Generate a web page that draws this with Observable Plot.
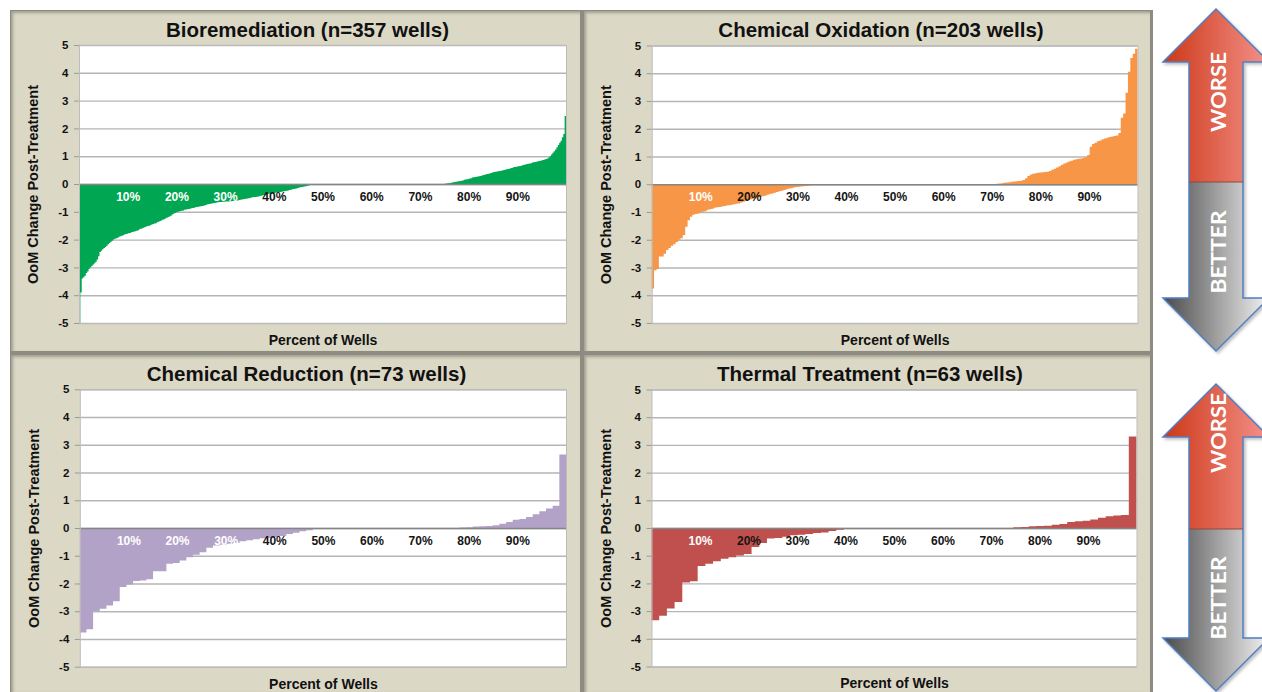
<!DOCTYPE html>
<html>
<head>
<meta charset="utf-8">
<script src="https://cdn.jsdelivr.net/npm/d3@7"></script>
<script src="https://cdn.jsdelivr.net/npm/@observablehq/plot@0.6"></script>
<style>
html, body { margin: 0; padding: 0; background: #fff; }
#page { position: relative; width: 1262px; height: 692px; overflow: hidden; background: #fff; font-family: "Liberation Sans", Arial, sans-serif; }
#board { position: absolute; left: 10px; top: 10px; width: 1143px; height: 682px; background: #8d8b82; }
.panel { position: absolute; background: #dcd8c6; box-shadow: inset 2px 2px 3px rgba(90, 88, 78, 0.45); }
.panel svg { position: absolute; left: 0; top: 0; overflow: visible; }
.ptitle { position: absolute; top: 6px; width: 100%; text-align: center; font-weight: bold; font-size: 20.5px; line-height: 26px; color: #111; white-space: nowrap; }
#arrows { position: absolute; left: 1150px; top: 0; }
</style>
</head>
<body>
<div id="page"><div id="board"></div></div>
<script>
// ---- data ----
const yTicks = [-5, -4, -3, -2, -1, 0, 1, 2, 3, 4, 5];
const pctPositions = [10, 20, 30, 40, 50, 60, 70, 80, 90];
const pctLabels = ["10%", "20%", "30%", "40%", "50%", "60%", "70%", "80%", "90%"];
const titles = [
  "Bioremediation (n=357 wells)",
  "Chemical Oxidation (n=203 wells)",
  "Chemical Reduction (n=73 wells)",
  "Thermal Treatment (n=63 wells)"
];
const xTitle = "Percent of Wells";
const yTitle = "OoM Change Post-Treatment";

// sorted OoM change per well
const bioValues = [
  -5.0, -3.9, -3.4, -3.35, -3.3, -3.2, -3.15, -3.05, -3.0, -2.95,
  -2.9, -2.85, -2.8, -2.72, -2.6, -2.45, -2.4, -2.35, -2.3, -2.27,
  -2.22, -2.17, -2.12, -2.08, -2.04, -2.0, -1.97, -1.95, -1.93, -1.9,
  -1.88, -1.86, -1.84, -1.82, -1.8, -1.79, -1.77, -1.76, -1.74, -1.73,
  -1.71, -1.7, -1.68, -1.66, -1.63, -1.61, -1.59, -1.57, -1.55, -1.53,
  -1.51, -1.5, -1.48, -1.46, -1.44, -1.42, -1.41, -1.38, -1.36, -1.33,
  -1.31, -1.29, -1.27, -1.24, -1.21, -1.19, -1.17, -1.14, -1.1, -1.07,
  -1.04, -1.02, -1.0, -0.99, -0.97, -0.96, -0.95, -0.93, -0.92, -0.91,
  -0.9, -0.89, -0.87, -0.86, -0.85, -0.84, -0.83, -0.82, -0.81, -0.8,
  -0.79, -0.78, -0.76, -0.75, -0.73, -0.72, -0.71, -0.7, -0.69, -0.68,
  -0.67, -0.66, -0.66, -0.65, -0.65, -0.64, -0.64, -0.63, -0.63, -0.63,
  -0.62, -0.62, -0.61, -0.61, -0.6, -0.6, -0.59, -0.58, -0.57, -0.56,
  -0.55, -0.54, -0.53, -0.52, -0.51, -0.5, -0.49, -0.48, -0.47, -0.47,
  -0.46, -0.45, -0.44, -0.42, -0.41, -0.4, -0.39, -0.37, -0.36, -0.35,
  -0.34, -0.33, -0.33, -0.32, -0.31, -0.3, -0.3, -0.29, -0.28, -0.27,
  -0.26, -0.25, -0.24, -0.23, -0.22, -0.21, -0.19, -0.18, -0.17, -0.16,
  -0.14, -0.13, -0.12, -0.11, -0.1, -0.09, -0.08, -0.06, -0.05, -0.04,
  -0.03, -0.02, -0.01,
  0, 0, 0, 0, 0, 0, 0, 0, 0, 0,
  0, 0, 0, 0, 0, 0, 0, 0, 0, 0,
  0, 0, 0, 0, 0, 0, 0, 0, 0, 0,
  0, 0, 0, 0, 0, 0, 0, 0, 0, 0,
  0, 0, 0, 0, 0, 0, 0, 0, 0, 0,
  0, 0, 0, 0, 0, 0, 0, 0, 0, 0,
  0, 0, 0, 0, 0, 0, 0, 0, 0, 0,
  0, 0, 0, 0, 0, 0, 0, 0, 0, 0,
  0, 0, 0, 0, 0, 0, 0, 0, 0, 0,
  0, 0, 0, 0, 0,
  0.01, 0.02, 0.03, 0.03, 0.04, 0.05, 0.06, 0.07, 0.08, 0.09,
  0.1, 0.11, 0.12, 0.13, 0.15, 0.16, 0.17, 0.18, 0.2, 0.21,
  0.23, 0.24, 0.25, 0.26, 0.27, 0.28, 0.29, 0.31, 0.32, 0.33,
  0.35, 0.36, 0.37, 0.39, 0.4, 0.42, 0.43, 0.44, 0.45, 0.46,
  0.47, 0.48, 0.49, 0.5, 0.51, 0.53, 0.54, 0.55, 0.57, 0.58,
  0.6, 0.61, 0.62, 0.63, 0.64, 0.65, 0.66, 0.68, 0.69, 0.7,
  0.72, 0.73, 0.74, 0.75, 0.77, 0.78, 0.79, 0.8, 0.82, 0.83,
  0.84, 0.85, 0.86, 0.88, 0.9, 0.92, 0.95, 1.0, 1.06, 1.12,
  1.18, 1.24, 1.32, 1.4, 1.48, 1.56, 1.68, 1.8, 2.45
];

const oxValues = [
  -3.76, -3.1, -3.05, -2.6, -2.6, -2.5, -2.37, -2.3, -2.22, -2.16,
  -2.08, -2.0, -1.95, -1.83, -1.53, -1.3, -1.17, -1.1, -1.07, -1.05,
  -1.0, -0.99, -0.97, -0.92, -0.9, -0.88, -0.85, -0.83, -0.82, -0.8,
  -0.78, -0.77, -0.76, -0.74, -0.72, -0.7, -0.69, -0.66, -0.63, -0.6,
  -0.57, -0.54, -0.52, -0.5, -0.47, -0.45, -0.43, -0.41, -0.38, -0.35,
  -0.33, -0.31, -0.28, -0.25, -0.23, -0.21, -0.18, -0.15, -0.14, -0.12,
  -0.1, -0.09, -0.08, -0.07, -0.06, -0.05, -0.04, -0.03, -0.02, -0.02,
  -0.01, -0.01,
  0, 0, 0, 0, 0, 0, 0, 0, 0, 0,
  0, 0, 0, 0, 0, 0, 0, 0, 0, 0,
  0, 0, 0, 0, 0, 0, 0, 0, 0, 0,
  0, 0, 0, 0, 0, 0, 0, 0, 0, 0,
  0, 0, 0, 0, 0, 0, 0, 0, 0, 0,
  0, 0, 0, 0, 0, 0, 0, 0, 0, 0,
  0, 0, 0, 0, 0, 0, 0, 0, 0, 0,
  0,
  0.01, 0.02, 0.03, 0.04, 0.05, 0.06, 0.07, 0.09, 0.1, 0.11,
  0.12, 0.13, 0.15, 0.22, 0.3, 0.35, 0.38, 0.4, 0.41, 0.42,
  0.43, 0.44, 0.45, 0.48, 0.52, 0.56, 0.6, 0.65, 0.7, 0.75,
  0.78, 0.82, 0.85, 0.88, 0.9, 0.92, 0.93, 0.95, 0.98, 1.05,
  1.35, 1.45, 1.5, 1.55, 1.58, 1.62, 1.65, 1.68, 1.7, 1.72,
  1.74, 1.76, 1.85, 2.4, 2.55, 3.3, 4.05, 4.55, 4.7, 4.88
];

const redValues = [
  -3.77, -3.65, -2.99, -2.91, -2.79, -2.64, -2.13, -2.04, -1.91, -1.89,
  -1.85, -1.56, -1.56, -1.29, -1.26, -1.17, -1.05, -0.96, -0.87, -0.71,
  -0.63, -0.6, -0.57, -0.53, -0.48, -0.44, -0.41, -0.37, -0.35, -0.32,
  -0.29, -0.22, -0.17, -0.12, -0.08,
  0, 0, 0, 0, 0, 0, 0, 0, 0, 0,
  0, 0, 0, 0, 0, 0, 0, 0, 0, 0,
  0, 0,
  0.02, 0.03, 0.05, 0.06, 0.07, 0.1, 0.15, 0.22, 0.3, 0.32,
  0.4, 0.5, 0.6, 0.7, 0.8, 2.65
];

const thermValues = [
  -3.33, -3.17, -2.91, -2.67, -1.97, -1.92, -1.37, -1.29, -1.2, -1.11,
  -1.06, -0.99, -0.94, -0.69, -0.54, -0.38, -0.36, -0.32, -0.26, -0.24,
  -0.22, -0.18, -0.16, -0.11, -0.06, -0.03, -0.02,
  0, 0, 0, 0, 0, 0, 0, 0, 0, 0,
  0, 0, 0, 0, 0, 0, 0, 0, 0, 0,
  0.03, 0.04, 0.06, 0.07, 0.08, 0.12, 0.14, 0.22, 0.24, 0.26,
  0.31, 0.37, 0.42, 0.45, 0.47, 3.3
];

// ---- layout / style options ----
const panels = [
  {title: titles[0], values: bioValues, color: "#00a651", whiteLabels: 3,
   left: 11, top: 11, width: 569, height: 340, mt: 34, mr: 14, mb: 28, ml: 68, titleDx: 12},
  {title: titles[1], values: oxValues, color: "#f79646", whiteLabels: 1,
   left: 584, top: 11, width: 566, height: 340, mt: 34.5, mr: 12.5, mb: 28, ml: 67.7, titleDx: 14},
  {title: titles[2], values: redValues, color: "#b3a2c7", whiteLabels: 3,
   left: 11, top: 355, width: 569, height: 337, mt: 34.3, mr: 14, mb: 25.3, ml: 68.8, titleDx: 11},
  {title: titles[3], values: thermValues, color: "#c0504d", whiteLabels: 1,
   left: 584, top: 355, width: 566, height: 337, mt: 34.5, mr: 13.5, mb: 25.5, ml: 67.5, titleDx: 3}
];

const page = document.getElementById("page");
const FONT = "'Liberation Sans', Arial, sans-serif";

for (const p of panels) {
  const div = document.createElement("div");
  div.className = "panel";
  Object.assign(div.style, {left: p.left + "px", top: p.top + "px", width: p.width + "px", height: p.height + "px"});

  const n = p.values.length;
  const steps = p.values.flatMap((v, i) => [{x: i, y: v}, {x: i + 1, y: v}]);
  const labels = pctLabels.map((t, k) => ({t, x: pctPositions[k] / 100 * n, y: -0.46, white: k < p.whiteLabels}));

  const svg = Plot.plot({
    width: p.width,
    height: p.height,
    marginTop: p.mt, marginRight: p.mr, marginBottom: p.mb, marginLeft: p.ml,
    style: {background: "transparent", overflow: "visible", fontFamily: FONT, color: "#111"},
    x: {domain: [0, n], axis: null},
    y: {domain: [-5, 5]},
    marks: [
      Plot.frame({fill: "white"}),
      Plot.ruleY(yTicks, {stroke: "#b5b5b5", strokeWidth: 1.4}),
      Plot.areaY(steps, {x: "x", y1: 0, y2: "y", fill: p.color}),
      Plot.ruleY([0], {stroke: "#858585", strokeWidth: 1.6}),
      Plot.frame({stroke: "#bdbdbd"}),
      Plot.axisY(yTicks, {tickSize: 5, tickPadding: 6, tickFormat: d => String(d), stroke: "#9a9a9a", fill: "#111",
        fontSize: 11.5, fontWeight: "bold", label: null}),
      Plot.text(labels.filter(d => d.white), {x: "x", y: "y", text: "t", fill: "white", fontSize: 12, fontWeight: "bold"}),
      Plot.text(labels.filter(d => !d.white), {x: "x", y: "y", text: "t", fill: "#151515", fontSize: 12, fontWeight: "bold"}),
      Plot.text([xTitle], {frameAnchor: "bottom", dy: 17, lineAnchor: "middle", textAnchor: "middle", fill: "#111", fontSize: 14, fontWeight: "bold"}),
      Plot.text([yTitle], {frameAnchor: "left", dx: -46, rotate: -90, textAnchor: "middle", lineAnchor: "middle", fill: "#111", fontSize: 14.5, fontWeight: "bold"})
    ]
  });
  div.appendChild(svg);

  const t = document.createElement("div");
  t.className = "ptitle";
  t.textContent = p.title;
  t.style.left = p.titleDx + "px";
  div.appendChild(t);
  page.appendChild(div);
}

// ---- WORSE / BETTER arrows (decoration) ----
const arrowWords = ["WORSE", "BETTER"];
const arrows = [
  {tip: 9, headBase: 62, split: 182, grayBase: 298, bottom: 351, worseY: 92, betterY: 252},
  {tip: 384, headBase: 437, split: 529, grayBase: 638, bottom: 691, worseY: 433, betterY: 598}
];
const asvg = d3.create("svg").attr("id", "arrows").attr("width", 112).attr("height", 692);
const defs = asvg.append("defs");
const gR = defs.append("linearGradient").attr("id", "gRed").attr("gradientUnits", "userSpaceOnUse")
  .attr("x1", 13).attr("x2", 119).attr("y1", 0).attr("y2", 0);
gR.append("stop").attr("offset", 0).attr("stop-color", "#cc3716");
gR.append("stop").attr("offset", 1).attr("stop-color", "#f4918a");
const gG = defs.append("linearGradient").attr("id", "gGray").attr("gradientUnits", "userSpaceOnUse")
  .attr("x1", 13).attr("x2", 119).attr("y1", 0).attr("y2", 0);
gG.append("stop").attr("offset", 0).attr("stop-color", "#4a4a4a");
gG.append("stop").attr("offset", 1).attr("stop-color", "#f2f2f2");
const sh = defs.append("filter").attr("id", "shadow").attr("x", -0.2).attr("y", -0.1).attr("width", 1.5).attr("height", 1.3);
sh.append("feDropShadow").attr("dx", 2).attr("dy", 2).attr("stdDeviation", 1.5).attr("flood-color", "#000").attr("flood-opacity", 0.25);

const cx = 66, hw = 53, sl = 39, sr = 93;
for (const a of arrows) {
  const g = asvg.append("g").attr("filter", "url(#shadow)");
  g.append("path").attr("fill", "url(#gRed)")
    .attr("d", `M${cx},${a.tip}L${cx - hw},${a.headBase}L${sl},${a.headBase}L${sl},${a.split}L${sr},${a.split}L${sr},${a.headBase}L${cx + hw},${a.headBase}Z`);
  g.append("path").attr("fill", "url(#gGray)")
    .attr("d", `M${sl},${a.split}L${sr},${a.split}L${sr},${a.grayBase}L${cx + hw},${a.grayBase}L${cx},${a.bottom}L${cx - hw},${a.grayBase}L${sl},${a.grayBase}Z`);
  g.append("path").attr("fill", "none").attr("stroke", "#4f7fc2").attr("stroke-width", 1.5).attr("stroke-linejoin", "miter")
    .attr("d", `M${cx},${a.tip}L${cx + hw},${a.headBase}L${sr},${a.headBase}L${sr},${a.grayBase}L${cx + hw},${a.grayBase}L${cx},${a.bottom}L${cx - hw},${a.grayBase}L${sl},${a.grayBase}L${sl},${a.headBase}L${cx - hw},${a.headBase}Z`);
  g.append("line").attr("x1", sl).attr("x2", sr).attr("y1", a.split).attr("y2", a.split)
    .attr("stroke", "#8a4a3e").attr("stroke-width", 1);
  [[arrowWords[0], a.worseY, 80], [arrowWords[1], a.betterY, 83]].forEach(([w, y, len]) => {
    asvg.append("text")
      .attr("transform", `translate(${cx + 1},${y}) rotate(-90)`)
      .attr("text-anchor", "middle").attr("dominant-baseline", "central")
      .attr("font-family", "Lato, 'Open Sans', sans-serif").attr("font-weight", "bold").attr("font-size", 21)
      .attr("fill", "white").attr("textLength", len).attr("lengthAdjust", "spacingAndGlyphs")
      .text(w);
  });
}
page.appendChild(asvg.node());
</script>
</body>
</html>
